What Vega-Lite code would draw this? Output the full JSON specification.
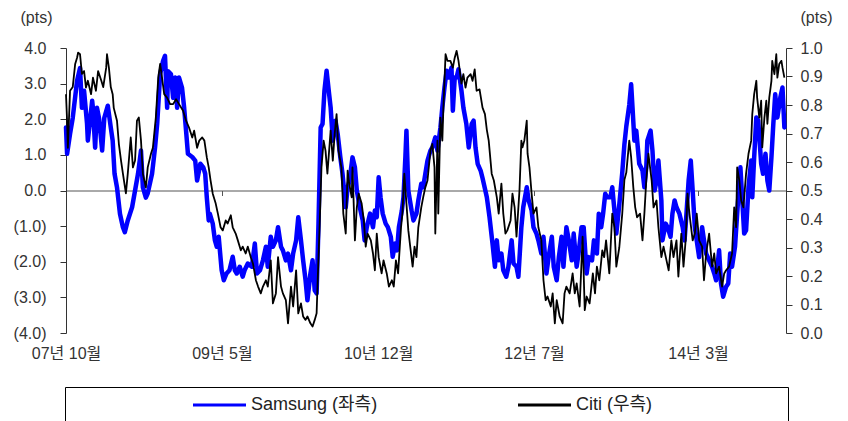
{
  "$schema": "https://vega.github.io/schema/vega-lite/v6.json",
  "width": 720,
  "height": 285,
  "autosize": {"type": "none"},
  "padding": {"left": 66, "top": 48, "right": 62, "bottom": 88},
  "background": "white",
  "config": {
    "view": {"stroke": null},
    "axis": {"grid": false, "domainColor": "#333", "tickColor": "#333", "labelColor": "#333", "labelFont": "Liberation Sans, Noto Sans CJK KR", "labelFontSize": 16, "titleFont": "Liberation Sans", "titleFontSize": 16, "titleFontWeight": "normal", "titleColor": "#333"}
  },
  "datasets": {
    "samsung": [
      {"date":"2007-10-01","value":1.77},{"date":"2007-10-05","value":1.03},{"date":"2007-10-16","value":1.59},{"date":"2007-10-26","value":2.04},{"date":"2007-11-11","value":3.08},{"date":"2007-11-22","value":3.44},{"date":"2007-11-29","value":2.32},{"date":"2007-12-07","value":2.8},{"date":"2007-12-18","value":1.87},{"date":"2007-12-21","value":1.4},
      {"date":"2008-01-06","value":2.52},{"date":"2008-01-09","value":2.3},{"date":"2008-01-17","value":1.2},{"date":"2008-01-24","value":2.32},{"date":"2008-02-01","value":2.0},{"date":"2008-02-12","value":1.12},{"date":"2008-02-20","value":2.04},{"date":"2008-03-04","value":2.38},{"date":"2008-03-15","value":1.77},{"date":"2008-03-22","value":1.4},{"date":"2008-03-29","value":0.47},{"date":"2008-04-07","value":0.09},{"date":"2008-04-18","value":-0.65},{"date":"2008-04-29","value":-1.03},{"date":"2008-05-06","value":-1.17},{"date":"2008-05-17","value":-0.84},{"date":"2008-06-02","value":-0.47},{"date":"2008-06-13","value":0},{"date":"2008-06-24","value":0.47},{"date":"2008-07-05","value":1.12},{"date":"2008-07-12","value":0.09},{"date":"2008-07-23","value":-0.2},{"date":"2008-07-30","value":-0.08},{"date":"2008-08-15","value":0.47},{"date":"2008-08-26","value":1.2},{"date":"2008-09-03","value":1.87},{"date":"2008-09-14","value":3.27},{"date":"2008-09-25","value":3.64},{"date":"2008-10-02","value":3.78},{"date":"2008-10-10","value":2.32},{"date":"2008-10-13","value":3.35},{"date":"2008-10-24","value":3.27},{"date":"2008-11-01","value":2.6},{"date":"2008-11-09","value":3.17},{"date":"2008-11-16","value":2.32},{"date":"2008-11-23","value":3.17},{"date":"2008-12-04","value":2.89},{"date":"2008-12-12","value":2.32},{"date":"2008-12-19","value":1.68},{"date":"2008-12-26","value":1.03},
      {"date":"2009-01-11","value":0.94},{"date":"2009-01-22","value":0.84},{"date":"2009-01-29","value":0.28},{"date":"2009-02-10","value":0.75},{"date":"2009-02-21","value":0.65},{"date":"2009-02-28","value":0.47},{"date":"2009-03-06","value":-0.2},{"date":"2009-03-13","value":-0.84},{"date":"2009-03-17","value":-0.65},{"date":"2009-03-28","value":-0.93},{"date":"2009-04-05","value":-1.4},{"date":"2009-04-12","value":-1.58},{"date":"2009-04-19","value":-1.3},{"date":"2009-04-30","value":-2.24},{"date":"2009-05-08","value":-2.52},{"date":"2009-05-18","value":-2.33},{"date":"2009-05-29","value":-2.24},{"date":"2009-06-10","value":-1.86},{"date":"2009-06-18","value":-2.24},{"date":"2009-06-25","value":-2.33},{"date":"2009-07-06","value":-2.14},{"date":"2009-07-17","value":-2.42},{"date":"2009-07-24","value":-2.24},{"date":"2009-08-05","value":-2.05},{"date":"2009-08-20","value":-2.14},{"date":"2009-08-31","value":-1.49},{"date":"2009-09-08","value":-2.33},{"date":"2009-09-19","value":-2.24},{"date":"2009-09-30","value":-1.96},{"date":"2009-10-11","value":-1.58},{"date":"2009-10-18","value":-2.14},{"date":"2009-10-29","value":-1.3},{"date":"2009-11-06","value":-1.58},{"date":"2009-11-17","value":-1.4},{"date":"2009-11-25","value":-1.03},{"date":"2009-12-06","value":-1.58},{"date":"2009-12-13","value":-1.68},{"date":"2009-12-24","value":-1.96},
      {"date":"2010-01-01","value":-1.77},{"date":"2010-01-12","value":-2.24},{"date":"2010-01-20","value":-1.77},{"date":"2010-01-31","value":-1.4},{"date":"2010-02-08","value":-0.75},{"date":"2010-02-18","value":-1.4},{"date":"2010-02-26","value":-1.96},{"date":"2010-03-07","value":-2.52},{"date":"2010-03-14","value":-3.08},{"date":"2010-03-25","value":-2.33},{"date":"2010-04-02","value":-1.96},{"date":"2010-04-10","value":-2.8},{"date":"2010-04-17","value":-2.89},{"date":"2010-04-24","value":-0.93},{"date":"2010-05-02","value":1.77},{"date":"2010-05-09","value":1.87},{"date":"2010-05-16","value":2.8},{"date":"2010-05-24","value":3.36},{"date":"2010-06-01","value":2.8},{"date":"2010-06-08","value":2.33},{"date":"2010-06-16","value":1.4},{"date":"2010-06-26","value":1.96},{"date":"2010-07-04","value":1.59},{"date":"2010-07-14","value":0.93},{"date":"2010-07-22","value":0.47},{"date":"2010-08-03","value":-0.47},{"date":"2010-08-10","value":0.09},{"date":"2010-08-17","value":0.28},{"date":"2010-08-28","value":0.93},{"date":"2010-09-06","value":0.65},{"date":"2010-09-13","value":0},{"date":"2010-09-24","value":-0.47},{"date":"2010-10-05","value":-0.84},{"date":"2010-10-12","value":-1.4},{"date":"2010-10-20","value":-1.03},{"date":"2010-11-01","value":-0.65},{"date":"2010-11-12","value":-1.03},{"date":"2010-11-19","value":-0.56},{"date":"2010-11-26","value":-0.75},{"date":"2010-12-03","value":0.37},{"date":"2010-12-10","value":-0.19},{"date":"2010-12-18","value":-0.65},{"date":"2010-12-29","value":-0.93},
      {"date":"2011-01-06","value":-1.03},{"date":"2011-01-17","value":-1.3},{"date":"2011-01-24","value":-1.86},{"date":"2011-02-02","value":-1.49},{"date":"2011-02-09","value":-1.68},{"date":"2011-02-16","value":-1.03},{"date":"2011-02-27","value":-0.56},{"date":"2011-03-05","value":-0.19},{"date":"2011-03-12","value":0.93},{"date":"2011-03-16","value":1.68},{"date":"2011-03-23","value":0},{"date":"2011-04-04","value":-0.56},{"date":"2011-04-11","value":-0.84},{"date":"2011-04-22","value":-0.65},{"date":"2011-04-29","value":-0.28},{"date":"2011-05-10","value":0.19},{"date":"2011-05-17","value":0.09},{"date":"2011-05-25","value":0.47},{"date":"2011-06-02","value":0.84},{"date":"2011-06-13","value":1.12},{"date":"2011-06-20","value":1.21},{"date":"2011-07-01","value":1.49},{"date":"2011-07-09","value":1.12},{"date":"2011-07-20","value":1.77},{"date":"2011-07-27","value":2.33},{"date":"2011-08-04","value":2.89},{"date":"2011-08-12","value":3.36},{"date":"2011-08-19","value":3.17},{"date":"2011-08-30","value":3.45},{"date":"2011-09-04","value":2.24},{"date":"2011-09-11","value":3.17},{"date":"2011-09-18","value":3.17},{"date":"2011-09-25","value":3.4},{"date":"2011-10-06","value":2.8},{"date":"2011-10-13","value":2.33},{"date":"2011-10-24","value":1.87},{"date":"2011-11-02","value":1.21},{"date":"2011-11-13","value":1.87},{"date":"2011-11-20","value":1.96},{"date":"2011-11-27","value":1.21},{"date":"2011-12-05","value":0.75},{"date":"2011-12-16","value":0.56},{"date":"2011-12-23","value":0.35},
      {"date":"2012-01-01","value":0.05},{"date":"2012-01-08","value":-0.19},{"date":"2012-01-18","value":-0.75},{"date":"2012-01-29","value":-1.49},{"date":"2012-02-07","value":-2.14},{"date":"2012-02-14","value":-1.4},{"date":"2012-02-21","value":-1.96},{"date":"2012-03-02","value":-1.77},{"date":"2012-03-09","value":-2.24},{"date":"2012-03-20","value":-2.42},{"date":"2012-03-28","value":-2.14},{"date":"2012-04-09","value":-1.4},{"date":"2012-04-16","value":-2.05},{"date":"2012-04-27","value":-2.14},{"date":"2012-05-04","value":-2.42},{"date":"2012-05-15","value":-1.03},{"date":"2012-05-22","value":-0.47},{"date":"2012-06-04","value":0.09},{"date":"2012-06-11","value":-0.28},{"date":"2012-06-22","value":-0.56},{"date":"2012-06-29","value":-1.03},{"date":"2012-07-10","value":-1.21},{"date":"2012-07-17","value":-1.4},{"date":"2012-07-28","value":-1.77},{"date":"2012-08-05","value":-1.3},{"date":"2012-08-16","value":-2.33},{"date":"2012-08-24","value":-1.87},{"date":"2012-09-05","value":-1.3},{"date":"2012-09-12","value":-2.14},{"date":"2012-09-23","value":-2.52},{"date":"2012-10-01","value":-1.87},{"date":"2012-10-11","value":-1.3},{"date":"2012-10-18","value":-2.14},{"date":"2012-10-29","value":-1.03},{"date":"2012-11-07","value":-1.4},{"date":"2012-11-18","value":-1.96},{"date":"2012-11-25","value":-1.21},{"date":"2012-12-06","value":-2.14},{"date":"2012-12-13","value":-1.77},{"date":"2012-12-24","value":-1.03},
      {"date":"2013-01-01","value":-1.03},{"date":"2013-01-12","value":-2.33},{"date":"2013-01-20","value":-1.87},{"date":"2013-02-01","value":-1.96},{"date":"2013-02-08","value":-1.4},{"date":"2013-02-19","value":-1.77},{"date":"2013-02-26","value":-0.65},{"date":"2013-03-07","value":-1.03},{"date":"2013-03-14","value":-0.65},{"date":"2013-03-22","value":-0.09},{"date":"2013-03-29","value":-0.19},{"date":"2013-04-10","value":-0.19},{"date":"2013-04-17","value":0.09},{"date":"2013-04-25","value":-0.56},{"date":"2013-05-02","value":-1.21},{"date":"2013-05-13","value":-0.4},{"date":"2013-05-24","value":0.5},{"date":"2013-06-01","value":1.3},{"date":"2013-06-08","value":1.8},{"date":"2013-06-19","value":2.4},{"date":"2013-06-26","value":2.98},{"date":"2013-07-01","value":2.33},{"date":"2013-07-08","value":1.4},{"date":"2013-07-15","value":1.68},{"date":"2013-07-26","value":0.75},{"date":"2013-08-07","value":0.56},{"date":"2013-08-14","value":0.09},{"date":"2013-08-21","value":0.65},{"date":"2013-08-25","value":1.4},{"date":"2013-09-06","value":1.68},{"date":"2013-09-13","value":1.12},{"date":"2013-09-21","value":0},{"date":"2013-09-28","value":0.28},{"date":"2013-10-05","value":0.84},{"date":"2013-10-16","value":-0.28},{"date":"2013-10-20","value":-1.4},{"date":"2013-11-01","value":-0.93},{"date":"2013-11-08","value":-1.03},{"date":"2013-11-19","value":-1.3},{"date":"2013-11-26","value":-0.65},{"date":"2013-12-04","value":-0.28},{"date":"2013-12-11","value":-0.47},{"date":"2013-12-22","value":-0.65},
      {"date":"2014-01-03","value":-1.03},{"date":"2014-01-10","value":-1.4},{"date":"2014-01-17","value":-0.65},{"date":"2014-01-25","value":0.28},{"date":"2014-02-02","value":0.84},{"date":"2014-02-09","value":0},{"date":"2014-02-17","value":-1.03},{"date":"2014-02-24","value":-1.4},{"date":"2014-03-05","value":-1.87},{"date":"2014-03-16","value":-1.03},{"date":"2014-03-23","value":-1.4},{"date":"2014-03-31","value":-1.77},{"date":"2014-04-11","value":-1.96},{"date":"2014-04-22","value":-2.14},{"date":"2014-04-30","value":-2.33},{"date":"2014-05-07","value":-2.52},{"date":"2014-05-18","value":-1.68},{"date":"2014-05-25","value":-2.61},{"date":"2014-06-02","value":-2.98},{"date":"2014-06-13","value":-2.7},{"date":"2014-06-21","value":-2.61},{"date":"2014-06-28","value":-1.77},{"date":"2014-07-05","value":-2.14},{"date":"2014-07-16","value":-1.58},{"date":"2014-07-24","value":-0.65},{"date":"2014-08-05","value":0.65},{"date":"2014-08-12","value":-0.28},{"date":"2014-08-19","value":-1.21},{"date":"2014-08-26","value":-1.12},{"date":"2014-09-04","value":0.09},{"date":"2014-09-14","value":0.84},{"date":"2014-09-18","value":-0.19},{"date":"2014-09-25","value":0.93},{"date":"2014-10-03","value":2.05},{"date":"2014-10-10","value":1.96},{"date":"2014-10-21","value":0.75},{"date":"2014-10-28","value":0.47},{"date":"2014-11-06","value":1.03},{"date":"2014-11-13","value":0.28},{"date":"2014-11-20","value":0},{"date":"2014-11-28","value":0.93},{"date":"2014-12-05","value":1.87},{"date":"2014-12-12","value":2.7},{"date":"2014-12-20","value":2.05},{"date":"2014-12-31","value":2.61},{"date":"2015-01-08","value":2.89},{"date":"2015-01-15","value":1.77}
    ],
    "citi": [
      {"date":"2007-10-01","value":0.838},{"date":"2007-10-05","value":0.745},{"date":"2007-10-08","value":0.65},{"date":"2007-10-16","value":0.85},{"date":"2007-10-26","value":0.863},{"date":"2007-11-04","value":0.944},{"date":"2007-11-11","value":0.966},{"date":"2007-11-15","value":0.984},{"date":"2007-11-22","value":0.978},{"date":"2007-11-29","value":0.909},{"date":"2007-12-07","value":0.919},{"date":"2007-12-14","value":0.861},{"date":"2007-12-21","value":0.885},
      {"date":"2008-01-02","value":0.838},{"date":"2008-01-09","value":0.896},{"date":"2008-01-20","value":0.85},{"date":"2008-01-28","value":0.919},{"date":"2008-02-09","value":0.885},{"date":"2008-02-16","value":0.863},{"date":"2008-02-27","value":0.931},{"date":"2008-03-01","value":0.978},{"date":"2008-03-08","value":0.931},{"date":"2008-03-15","value":0.863},{"date":"2008-03-22","value":0.838},{"date":"2008-03-26","value":0.79},{"date":"2008-04-07","value":0.745},{"date":"2008-04-14","value":0.663},{"date":"2008-04-22","value":0.605},{"date":"2008-04-29","value":0.559},{"date":"2008-05-10","value":0.49},{"date":"2008-05-17","value":0.559},{"date":"2008-05-28","value":0.686},{"date":"2008-06-05","value":0.581},{"date":"2008-06-13","value":0.605},{"date":"2008-06-20","value":0.745},{"date":"2008-06-27","value":0.756},{"date":"2008-07-05","value":0.675},{"date":"2008-07-12","value":0.559},{"date":"2008-07-23","value":0.511},{"date":"2008-07-30","value":0.581},{"date":"2008-08-11","value":0.629},{"date":"2008-08-18","value":0.65},{"date":"2008-08-29","value":0.756},{"date":"2008-09-07","value":0.896},{"date":"2008-09-14","value":0.944},{"date":"2008-09-21","value":0.896},{"date":"2008-09-29","value":0.838},{"date":"2008-10-10","value":0.825},{"date":"2008-10-21","value":0.803},{"date":"2008-11-01","value":0.803},{"date":"2008-11-12","value":0.82},{"date":"2008-11-23","value":0.803},{"date":"2008-12-08","value":0.78},{"date":"2008-12-19","value":0.745},{"date":"2008-12-30","value":0.721},
      {"date":"2009-01-11","value":0.686},{"date":"2009-01-18","value":0.71},{"date":"2009-01-29","value":0.65},{"date":"2009-02-06","value":0.675},{"date":"2009-02-17","value":0.686},{"date":"2009-02-25","value":0.675},{"date":"2009-03-06","value":0.616},{"date":"2009-03-13","value":0.581},{"date":"2009-03-20","value":0.535},{"date":"2009-03-28","value":0.489},{"date":"2009-04-08","value":0.454},{"date":"2009-04-16","value":0.419},{"date":"2009-04-26","value":0.371},{"date":"2009-05-04","value":0.36},{"date":"2009-05-15","value":0.395},{"date":"2009-05-22","value":0.384},{"date":"2009-06-03","value":0.413},{"date":"2009-06-10","value":0.371},{"date":"2009-06-21","value":0.349},{"date":"2009-06-29","value":0.325},{"date":"2009-07-10","value":0.29},{"date":"2009-07-17","value":0.303},{"date":"2009-07-28","value":0.279},{"date":"2009-08-05","value":0.303},{"date":"2009-08-16","value":0.266},{"date":"2009-08-24","value":0.244},{"date":"2009-09-04","value":0.185},{"date":"2009-09-12","value":0.163},{"date":"2009-09-22","value":0.139},{"date":"2009-09-30","value":0.163},{"date":"2009-10-11","value":0.185},{"date":"2009-10-18","value":0.163},{"date":"2009-10-29","value":0.255},{"date":"2009-11-06","value":0.104},{"date":"2009-11-17","value":0.139},{"date":"2009-11-25","value":0.266},{"date":"2009-12-06","value":0.163},{"date":"2009-12-13","value":0.139},{"date":"2009-12-24","value":0.115},
      {"date":"2010-01-01","value":0.034},{"date":"2010-01-12","value":0.163},{"date":"2010-01-20","value":0.093},{"date":"2010-01-31","value":0.22},{"date":"2010-02-08","value":0.069},{"date":"2010-02-18","value":0.104},{"date":"2010-02-26","value":0.058},{"date":"2010-03-07","value":0.046},{"date":"2010-03-14","value":0.058},{"date":"2010-03-25","value":0.034},{"date":"2010-04-02","value":0.023},{"date":"2010-04-10","value":0.046},{"date":"2010-04-17","value":0.069},{"date":"2010-04-21","value":0.185},{"date":"2010-04-28","value":0.371},{"date":"2010-05-05","value":0.581},{"date":"2010-05-13","value":0.675},{"date":"2010-05-20","value":0.64},{"date":"2010-05-27","value":0.559},{"date":"2010-06-08","value":0.71},{"date":"2010-06-16","value":0.605},{"date":"2010-06-23","value":0.699},{"date":"2010-06-30","value":0.768},{"date":"2010-07-07","value":0.64},{"date":"2010-07-18","value":0.581},{"date":"2010-07-25","value":0.419},{"date":"2010-08-03","value":0.349},{"date":"2010-08-10","value":0.57},{"date":"2010-08-14","value":0.535},{"date":"2010-08-25","value":0.476},{"date":"2010-08-28","value":0.581},{"date":"2010-09-06","value":0.325},{"date":"2010-09-13","value":0.441},{"date":"2010-09-20","value":0.489},{"date":"2010-10-01","value":0.454},{"date":"2010-10-09","value":0.395},{"date":"2010-10-16","value":0.303},{"date":"2010-10-23","value":0.349},{"date":"2010-11-04","value":0.325},{"date":"2010-11-12","value":0.279},{"date":"2010-11-19","value":0.22},{"date":"2010-11-26","value":0.349},{"date":"2010-12-03","value":0.266},{"date":"2010-12-14","value":0.209},{"date":"2010-12-21","value":0.255},
      {"date":"2011-01-02","value":0.209},{"date":"2011-01-10","value":0.163},{"date":"2011-01-21","value":0.185},{"date":"2011-01-28","value":0.163},{"date":"2011-02-05","value":0.255},{"date":"2011-02-13","value":0.209},{"date":"2011-02-24","value":0.371},{"date":"2011-03-01","value":0.419},{"date":"2011-03-08","value":0.559},{"date":"2011-03-16","value":0.454},{"date":"2011-03-23","value":0.36},{"date":"2011-03-30","value":0.303},{"date":"2011-04-08","value":0.233},{"date":"2011-04-15","value":0.303},{"date":"2011-04-22","value":0.266},{"date":"2011-04-29","value":0.371},{"date":"2011-05-10","value":0.441},{"date":"2011-05-17","value":0.476},{"date":"2011-05-25","value":0.511},{"date":"2011-06-02","value":0.535},{"date":"2011-06-13","value":0.64},{"date":"2011-06-20","value":0.663},{"date":"2011-06-28","value":0.581},{"date":"2011-07-01","value":0.349},{"date":"2011-07-09","value":0.675},{"date":"2011-07-12","value":0.419},{"date":"2011-07-20","value":0.756},{"date":"2011-07-27","value":0.675},{"date":"2011-07-31","value":0.791},{"date":"2011-08-08","value":0.978},{"date":"2011-08-15","value":0.955},{"date":"2011-08-26","value":0.955},{"date":"2011-09-04","value":0.931},{"date":"2011-09-11","value":0.966},{"date":"2011-09-18","value":0.99},{"date":"2011-09-25","value":0.955},{"date":"2011-10-06","value":0.875},{"date":"2011-10-13","value":0.908},{"date":"2011-10-21","value":0.861},{"date":"2011-10-28","value":0.896},{"date":"2011-11-09","value":0.908},{"date":"2011-11-16","value":0.885},{"date":"2011-11-24","value":0.925},{"date":"2011-12-01","value":0.85},{"date":"2011-12-12","value":0.855},{"date":"2011-12-23","value":0.791},
      {"date":"2012-01-01","value":0.768},{"date":"2012-01-08","value":0.713},{"date":"2012-01-15","value":0.675},{"date":"2012-01-26","value":0.559},{"date":"2012-02-03","value":0.535},{"date":"2012-02-14","value":0.476},{"date":"2012-02-21","value":0.419},{"date":"2012-03-02","value":0.524},{"date":"2012-03-09","value":0.419},{"date":"2012-03-17","value":0.349},{"date":"2012-03-24","value":0.36},{"date":"2012-04-05","value":0.395},{"date":"2012-04-12","value":0.489},{"date":"2012-04-20","value":0.441},{"date":"2012-04-27","value":0.338},{"date":"2012-05-08","value":0.5},{"date":"2012-05-15","value":0.675},{"date":"2012-05-19","value":0.651},{"date":"2012-05-26","value":0.675},{"date":"2012-06-04","value":0.745},{"date":"2012-06-07","value":0.629},{"date":"2012-06-14","value":0.581},{"date":"2012-06-22","value":0.489},{"date":"2012-06-29","value":0.419},{"date":"2012-07-10","value":0.441},{"date":"2012-07-17","value":0.371},{"date":"2012-07-28","value":0.325},{"date":"2012-08-05","value":0.185},{"date":"2012-08-13","value":0.115},{"date":"2012-08-20","value":0.128},{"date":"2012-09-01","value":0.093},{"date":"2012-09-08","value":0.139},{"date":"2012-09-16","value":0.034},{"date":"2012-09-23","value":0.115},{"date":"2012-10-04","value":0.058},{"date":"2012-10-15","value":0.034},{"date":"2012-10-22","value":0.139},{"date":"2012-10-29","value":0.163},{"date":"2012-11-10","value":0.139},{"date":"2012-11-21","value":0.209},{"date":"2012-11-29","value":0.139},{"date":"2012-12-06","value":0.174},{"date":"2012-12-17","value":0.093},{"date":"2012-12-28","value":0.338},
      {"date":"2013-01-05","value":0.08},{"date":"2013-01-12","value":0.128},{"date":"2013-01-23","value":0.104},{"date":"2013-02-04","value":0.209},{"date":"2013-02-12","value":0.139},{"date":"2013-02-19","value":0.233},{"date":"2013-02-28","value":0.185},{"date":"2013-03-11","value":0.29},{"date":"2013-03-18","value":0.266},{"date":"2013-03-25","value":0.325},{"date":"2013-04-06","value":0.209},{"date":"2013-04-17","value":0.419},{"date":"2013-04-25","value":0.371},{"date":"2013-05-02","value":0.233},{"date":"2013-05-13","value":0.3},{"date":"2013-05-24","value":0.419},{"date":"2013-06-01","value":0.538},{"date":"2013-06-08","value":0.563},{"date":"2013-06-19","value":0.675},{"date":"2013-06-26","value":0.616},{"date":"2013-07-04","value":0.511},{"date":"2013-07-11","value":0.441},{"date":"2013-07-18","value":0.406},{"date":"2013-07-29","value":0.419},{"date":"2013-08-07","value":0.325},{"date":"2013-08-14","value":0.419},{"date":"2013-08-21","value":0.535},{"date":"2013-08-29","value":0.629},{"date":"2013-09-10","value":0.535},{"date":"2013-09-17","value":0.441},{"date":"2013-09-28","value":0.465},{"date":"2013-10-05","value":0.371},{"date":"2013-10-16","value":0.266},{"date":"2013-10-24","value":0.303},{"date":"2013-11-04","value":0.255},{"date":"2013-11-12","value":0.22},{"date":"2013-11-22","value":0.325},{"date":"2013-11-30","value":0.266},{"date":"2013-12-11","value":0.325},{"date":"2013-12-18","value":0.198},{"date":"2013-12-29","value":0.349},
      {"date":"2014-01-06","value":0.233},{"date":"2014-01-14","value":0.325},{"date":"2014-01-21","value":0.489},{"date":"2014-01-28","value":0.419},{"date":"2014-02-09","value":0.325},{"date":"2014-02-17","value":0.349},{"date":"2014-02-24","value":0.419},{"date":"2014-03-05","value":0.325},{"date":"2014-03-16","value":0.303},{"date":"2014-03-23","value":0.185},{"date":"2014-03-31","value":0.279},{"date":"2014-04-11","value":0.349},{"date":"2014-04-22","value":0.233},{"date":"2014-04-30","value":0.279},{"date":"2014-05-07","value":0.209},{"date":"2014-05-18","value":0.233},{"date":"2014-05-29","value":0.163},{"date":"2014-06-06","value":0.209},{"date":"2014-06-13","value":0.22},{"date":"2014-06-24","value":0.233},{"date":"2014-07-05","value":0.279},{"date":"2014-07-13","value":0.441},{"date":"2014-07-20","value":0.371},{"date":"2014-07-24","value":0.581},{"date":"2014-08-01","value":0.535},{"date":"2014-08-08","value":0.465},{"date":"2014-08-16","value":0.441},{"date":"2014-08-26","value":0.559},{"date":"2014-09-04","value":0.629},{"date":"2014-09-14","value":0.675},{"date":"2014-09-18","value":0.768},{"date":"2014-09-25","value":0.838},{"date":"2014-10-03","value":0.885},{"date":"2014-10-06","value":0.826},{"date":"2014-10-14","value":0.756},{"date":"2014-10-21","value":0.815},{"date":"2014-10-25","value":0.651},{"date":"2014-11-02","value":0.756},{"date":"2014-11-09","value":0.815},{"date":"2014-11-13","value":0.734},{"date":"2014-11-20","value":0.826},{"date":"2014-11-28","value":0.885},{"date":"2014-12-01","value":0.955},{"date":"2014-12-09","value":0.908},{"date":"2014-12-16","value":0.978},{"date":"2014-12-20","value":0.896},{"date":"2014-12-27","value":0.944},{"date":"2015-01-04","value":0.955},{"date":"2015-01-08","value":0.931},{"date":"2015-01-15","value":0.896}
    ]
  },
  "layer": [
    {
      "data": {"name": "samsung"},
      "mark": {"type": "line", "strokeWidth": 4.5, "strokeJoin": "round", "strokeCap": "round"},
      "encoding": {
        "x": {
          "field": "date", "type": "temporal",
          "scale": {"domain": [{"year": 2007, "month": 10, "date": 1}, {"year": 2015, "month": 1, "date": 21}]},
          "axis": {
            "orient": "bottom", "offset": -142.5, "title": null,
            "values": [{"year": 2007, "month": 10, "date": 1}, {"year": 2009, "month": 5, "date": 1}, {"year": 2010, "month": 12, "date": 1}, {"year": 2012, "month": 7, "date": 1}, {"year": 2014, "month": 3, "date": 1}],
            "format": "%y년 %-m월", "labelFlush": false, "labelOverlap": false,
            "tickSize": 5, "labelPadding": 150, "domainColor": "#555", "tickColor": "#555"
          }
        },
        "y": {
          "field": "value", "type": "quantitative",
          "scale": {"domain": [-4, 4], "nice": false, "zero": false},
          "axis": {
            "orient": "left", "values": [-4, -3, -2, -1, 0, 1, 2, 3, 4],
            "labelExpr": "datum.value < 0 ? '(' + format(-datum.value, '.1f') + ')' : format(datum.value, '.1f')",
            "tickSize": 6, "labelPadding": 14,
            "title": "(pts)", "titleAngle": 0, "titleX": -30, "titleY": -31, "titleAlign": "center", "titleBaseline": "middle"
          }
        },
        "color": {
          "datum": "Samsung (좌측)",
          "scale": {"domain": ["Samsung (좌측)", "Citi (우측)"], "range": ["#0000ff", "#000000"]},
          "legend": {
            "title": "\u00a0", "titleOrient": "right", "titlePadding": 127,
            "orient": "none", "legendX": -1, "legendY": 339, "direction": "horizontal",
            "symbolType": "M-5.3,0L5.3,0", "symbolSize": 100, "symbolStrokeWidth": 3,
            "labelFont": "Liberation Sans, Noto Sans CJK KR", "labelFontSize": 18, "labelColor": "#222",
            "strokeColor": "#000", "padding": 9, "symbolOffset": 136.5, "labelOffset": 22.5, "columnPadding": 21
          }
        }
      }
    },
    {
      "data": {"name": "citi"},
      "mark": {"type": "line", "strokeWidth": 1.8, "strokeJoin": "round"},
      "encoding": {
        "x": {"field": "date", "type": "temporal"},
        "y": {
          "field": "value", "type": "quantitative",
          "scale": {"domain": [0, 1], "nice": false},
          "axis": {
            "orient": "right", "values": [0, 0.1, 0.2, 0.3, 0.4, 0.5, 0.6, 0.7, 0.8, 0.9, 1.0],
            "format": ".1f", "tickSize": 6, "labelPadding": 8,
            "title": "(pts)", "titleAngle": 0, "titleX": 30, "titleY": -31, "titleAlign": "center", "titleBaseline": "middle"
          }
        },
        "color": {"datum": "Citi (우측)"}
      }
    }
  ],
  "resolve": {"scale": {"y": "independent"}}
}
